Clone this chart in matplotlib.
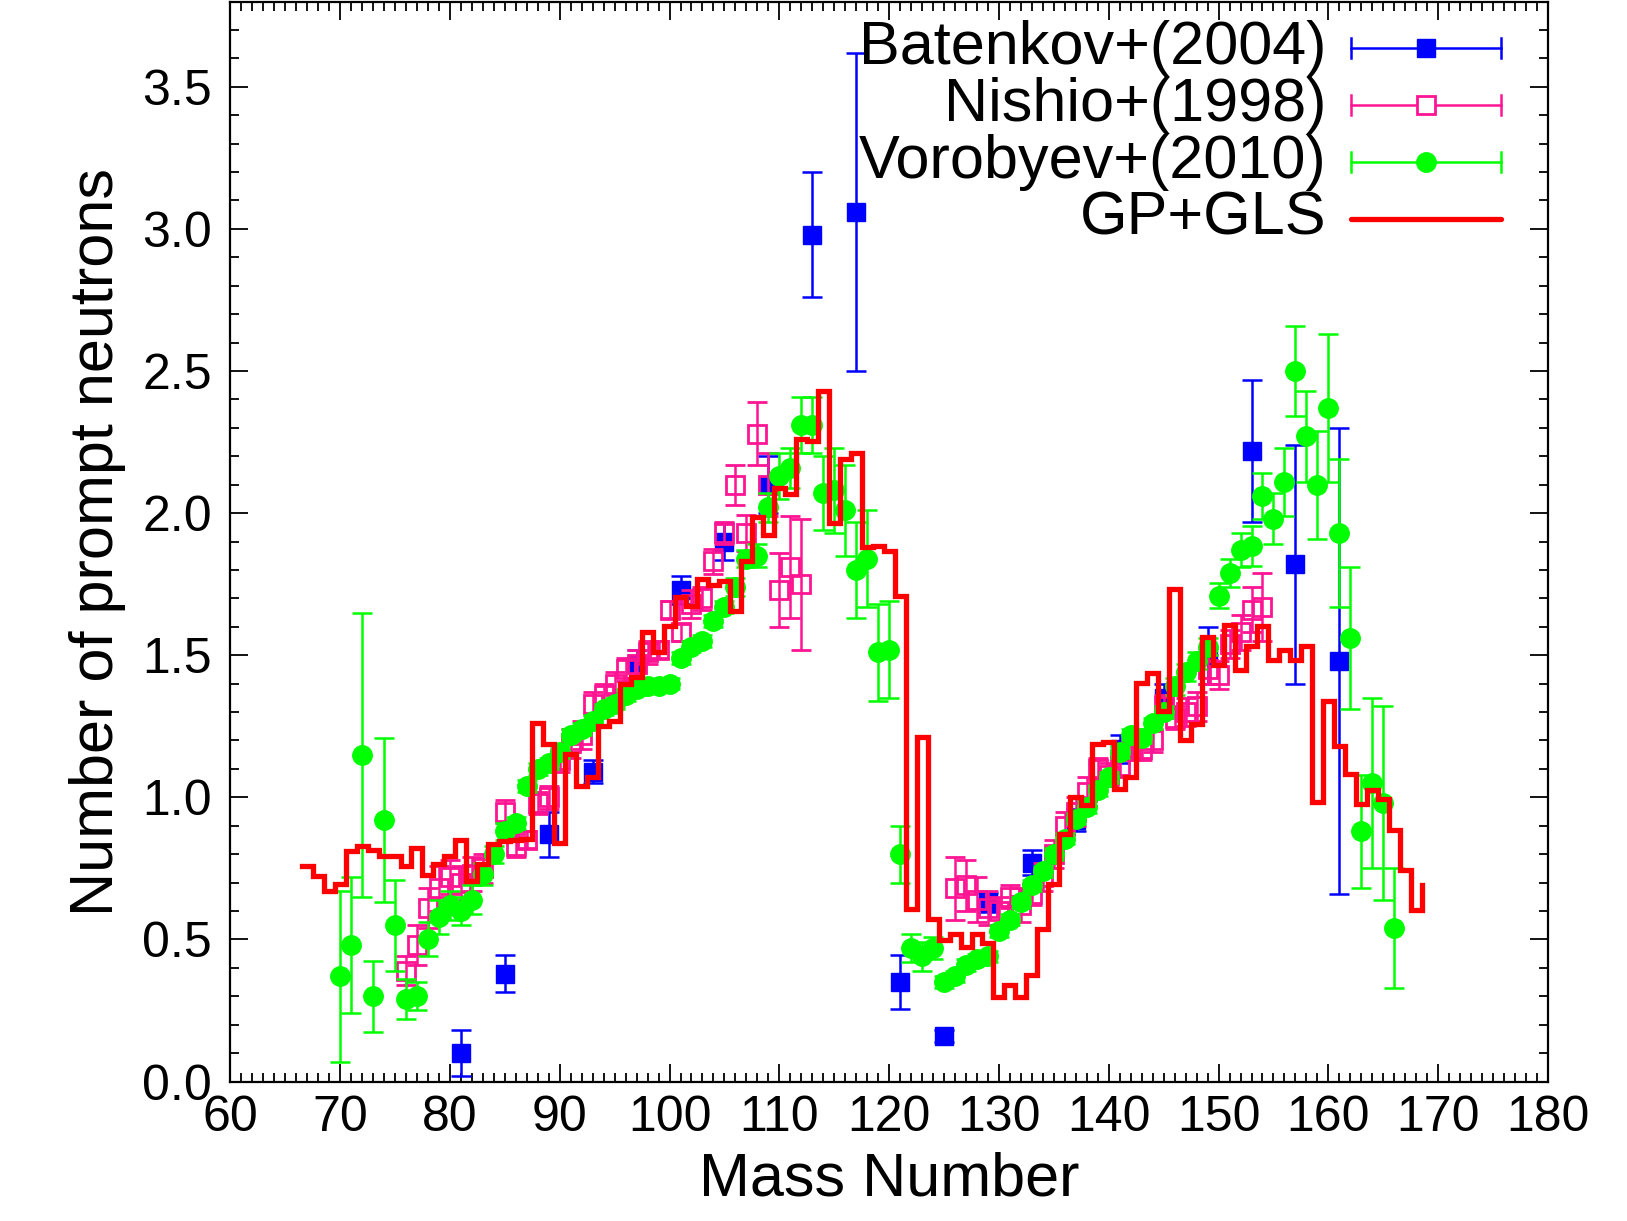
import numpy as np
import matplotlib.pyplot as plt
from matplotlib.ticker import MultipleLocator

plt.rcParams['font.family'] = ['Liberation Sans', 'DejaVu Sans']

# Batenkov+(2004)
bat_a = [81, 85, 89, 93, 97, 101, 105, 109, 113, 117, 121, 125, 129, 133, 137, 141, 145, 149, 153, 157, 161]
bat_nu = [0.10, 0.38, 0.87, 1.09, 1.47, 1.73, 1.90, 2.10, 2.98, 3.06, 0.35, 0.16, 0.63, 0.77, 0.92, 1.17,
          1.35, 1.50, 2.22, 1.82, 1.48]
bat_err = [0.08, 0.065, 0.08, 0.04, 0.05, 0.05, 0.065, 0.10, 0.22, 0.56, 0.095, 0.02, 0.035, 0.045, 0.04,
           0.05, 0.05, 0.10, 0.25, 0.42, 0.82]

# Nishio+(1998)
nis_a = [76, 77, 78, 79, 80, 81, 82, 83, 85, 86, 87, 88, 89, 90, 91, 92, 93, 94, 95, 96, 97, 98, 99, 100,
         101, 102, 103, 104, 105, 106, 107, 108, 109, 110, 111, 112,
         126, 127, 128, 129, 130, 131, 132, 133, 134, 135, 136, 137, 138, 139, 140, 141, 142, 143, 144,
         145, 146, 147, 148, 149, 150, 151, 152, 153, 154]
nis_nu = [0.39, 0.48, 0.61, 0.68, 0.72, 0.70, 0.73, 0.75, 0.95, 0.83, 0.85, 0.98, 1.00, 1.13, 1.19, 1.22,
          1.33, 1.36, 1.40, 1.45, 1.47, 1.51, 1.52, 1.66, 1.58, 1.68, 1.70, 1.83, 1.93, 2.10, 1.93, 2.28,
          2.10, 1.73, 1.81, 1.75,
          0.68, 0.69, 0.64, 0.61, 0.60, 0.65, 0.62, 0.66, 0.72, 0.80, 0.90, 0.95, 1.02, 1.10, 1.08, 1.11,
          1.17, 1.17, 1.20, 1.32, 1.28, 1.30, 1.32, 1.45, 1.43, 1.54, 1.58, 1.66, 1.67]
nis_err = [0.05, 0.07, 0.07, 0.08, 0.06, 0.06, 0.06, 0.05, 0.04, 0.04, 0.03, 0.04, 0.04, 0.04, 0.05, 0.05,
           0.04, 0.04, 0.04, 0.04, 0.05, 0.04, 0.03, 0.03, 0.03, 0.05, 0.04, 0.045, 0.04, 0.07, 0.065, 0.11,
           0.11, 0.13, 0.18, 0.23,
           0.11, 0.09, 0.08, 0.06, 0.05, 0.04, 0.06, 0.04, 0.05, 0.05, 0.05, 0.05, 0.05, 0.04, 0.04, 0.04,
           0.04, 0.04, 0.04, 0.04, 0.04, 0.05, 0.05, 0.05, 0.05, 0.05, 0.06, 0.08, 0.12]

# Vorobyev+(2010)
vor_a = list(range(70, 167))
vor_nu = [0.37, 0.48, 1.15, 0.30, 0.92, 0.55, 0.29, 0.30, 0.50, 0.58,          # 70-79
          0.62, 0.60, 0.64, 0.73, 0.80, 0.88, 0.91, 1.04, 1.10, 1.12,          # 80-89
          1.16, 1.22, 1.24, 1.27, 1.31, 1.33, 1.36, 1.38, 1.39, 1.39,          # 90-99
          1.40, 1.49, 1.53, 1.55, 1.62, 1.67, 1.74, 1.84, 1.85, 2.02,          # 100-109
          2.13, 2.16, 2.31, 2.31, 2.07, 2.08, 2.01, 1.80, 1.84, 1.51,          # 110-119
          1.52, 0.80, 0.47, 0.44, 0.47, 0.35, 0.37, 0.41, 0.43, 0.44,          # 120-129
          0.53, 0.57, 0.63, 0.69, 0.74, 0.80, 0.855, 0.925, 0.966, 1.024,      # 130-139
          1.07, 1.16, 1.22, 1.21, 1.26, 1.30, 1.39, 1.44, 1.48, 1.53,          # 140-149
          1.71, 1.79, 1.87, 1.885, 2.06, 1.98, 2.11, 2.50, 2.27, 2.10,         # 150-159
          2.37, 1.93, 1.56, 0.88, 1.05, 0.98, 0.54]                            # 160-166
vor_err = [0.30, 0.24, 0.50, 0.125, 0.29, 0.16, 0.07, 0.05, 0.06, 0.06,
           0.05, 0.05, 0.05, 0.04, 0.03, 0.03, 0.02, 0.02, 0.02, 0.02,
           0.02, 0.02, 0.02, 0.02, 0.02, 0.02, 0.02, 0.02, 0.02, 0.02,
           0.02, 0.02, 0.02, 0.02, 0.02, 0.02, 0.03, 0.03, 0.04, 0.05,
           0.08, 0.07, 0.10, 0.10, 0.13, 0.15, 0.16, 0.17, 0.17, 0.17,
           0.17, 0.10, 0.05, 0.05, 0.04, 0.02, 0.02, 0.02, 0.02, 0.02,
           0.02, 0.02, 0.02, 0.02, 0.02, 0.02, 0.02, 0.02, 0.02, 0.02,
           0.02, 0.02, 0.02, 0.02, 0.02, 0.02, 0.03, 0.03, 0.03, 0.03,
           0.045, 0.05, 0.06, 0.07, 0.08, 0.09, 0.12, 0.16, 0.16, 0.19,
           0.26, 0.26, 0.25, 0.20, 0.30, 0.34, 0.21]

# GP+GLS evaluation, one value per mass bin (67 ... 168)
gls_a = list(range(67, 169))
gls_nu = [0.757, 0.722, 0.672, 0.695, 0.812, 0.830, 0.815, 0.795, 0.795, 0.757,   # 67-76
          0.822, 0.725, 0.766, 0.795, 0.848, 0.707, 0.766, 0.836, 0.845, 0.850,   # 77-86
          0.855, 1.260, 1.188, 0.840, 1.153, 1.040, 1.073, 1.250, 1.270, 1.399,   # 87-96
          1.422, 1.580, 1.510, 1.604, 1.706, 1.672, 1.768, 1.748, 1.760, 1.655,   # 97-106
          1.832, 1.985, 1.922, 2.090, 2.066, 2.260, 2.252, 2.430, 1.965, 2.190,   # 107-116
          2.213, 1.879, 1.885, 1.868, 1.709, 0.608, 1.212, 0.573, 0.497, 0.518,   # 117-126
          0.474, 0.518, 0.486, 0.298, 0.339, 0.298, 0.374, 0.538, 0.696, 0.872,   # 127-136
          1.001, 0.972, 1.188, 1.194, 1.030, 1.071, 1.401, 1.436, 1.305, 1.733,   # 137-146
          1.202, 1.259, 1.563, 1.467, 1.606, 1.448, 1.534, 1.604, 1.483, 1.519,   # 147-156
          1.483, 1.534, 0.983, 1.340, 1.179, 1.083, 0.975, 1.027, 0.995, 0.886,   # 157-166
          0.743, 0.603]                                                           # 167-168
gls_end = 0.690

BLUE = '#0000ff'
PINK = '#ff1493'
GREEN = '#00ff00'
RED = '#ff0000'

fig = plt.figure(figsize=(16.27, 12.21), dpi=100)
ax = fig.add_axes([0.14155, 0.11425, 0.80989, 0.88452])

eb = dict(capsize=7, elinewidth=1.8, capthick=1.8, linestyle='none')
ax.errorbar(bat_a, bat_nu, yerr=bat_err, fmt='s', color=BLUE, ms=12.5, zorder=3, **eb)
ax.errorbar(nis_a, nis_nu, yerr=nis_err, fmt='s', color=PINK, mfc='none', mec=PINK, mew=2,
            ms=12.5, zorder=4, **eb)
ax.errorbar(vor_a, vor_nu, yerr=vor_err, fmt='o', color=GREEN, ms=14, zorder=5, **eb)

# histogram-like steps, bins centred on integer mass numbers
edges = np.append(np.array(gls_a) - 0.5, gls_a[-1] + 0.5)
xs = np.append(np.repeat(edges, 2)[1:-1], edges[-1])
ys = np.append(np.repeat(gls_nu, 2), gls_end)
ax.plot(xs, ys, color=RED, lw=3.8, solid_joinstyle='miter', zorder=6)

ax.set_xlim(60, 180)
ax.set_ylim(0, 3.8)
ax.xaxis.set_major_locator(MultipleLocator(10))
ax.xaxis.set_minor_locator(MultipleLocator(1))
ax.yaxis.set_major_locator(MultipleLocator(0.5))
ax.yaxis.set_minor_locator(MultipleLocator(0.1))
ax.yaxis.set_major_formatter(plt.FormatStrFormatter('%.1f'))
ax.tick_params(which='both', direction='in', top=True, right=True, width=1.3, labelsize=36)
ax.tick_params(which='major', length=13)
ax.tick_params(which='minor', length=6.5)
ax.tick_params(axis='x', pad=9.5)
ax.tick_params(axis='y', pad=13)
for s in ax.spines.values():
    s.set_linewidth(1.6)

ax.set_xlabel('Mass Number', fontsize=44, labelpad=8)
ax.set_ylabel('Number of prompt neutrons', fontsize=44, labelpad=12)

# key, drawn gnuplot style in the upper right corner
leg_labels = ['Batenkov+(2004)', 'Nishio+(1998)', 'Vorobyev+(2010)', 'GP+GLS']
leg_colors = [BLUE, PINK, GREEN, RED]
leg_markers = ['s', 's', 'o', None]
leg_y = [3.635, 3.435, 3.235, 3.035]
x_text, x0, x1, xm, cap = 159.8, 162.06, 175.7, 168.9, 0.035
for lab, col, mk, y in zip(leg_labels, leg_colors, leg_markers, leg_y):
    ax.text(x_text, y, lab, ha='right', va='center', fontsize=44, zorder=10)
    if mk is None:
        ax.plot([x0, x1], [y, y], color=col, lw=3.8, solid_capstyle='round', zorder=10)
        continue
    ax.plot([x0, x1], [y, y], color=col, lw=1.8, zorder=10)
    ax.plot([x0, x0], [y - cap, y + cap], color=col, lw=1.8, zorder=10)
    ax.plot([x1, x1], [y - cap, y + cap], color=col, lw=1.8, zorder=10)
    if col == PINK:
        ax.plot([xm], [y], marker=mk, ms=12.5, mfc='white', mec=col, mew=2, zorder=11)
    else:
        ax.plot([xm], [y], marker=mk, ms=14 if mk == 'o' else 12.5, color=col, zorder=11)

fig.savefig('out.png', dpi=100)
